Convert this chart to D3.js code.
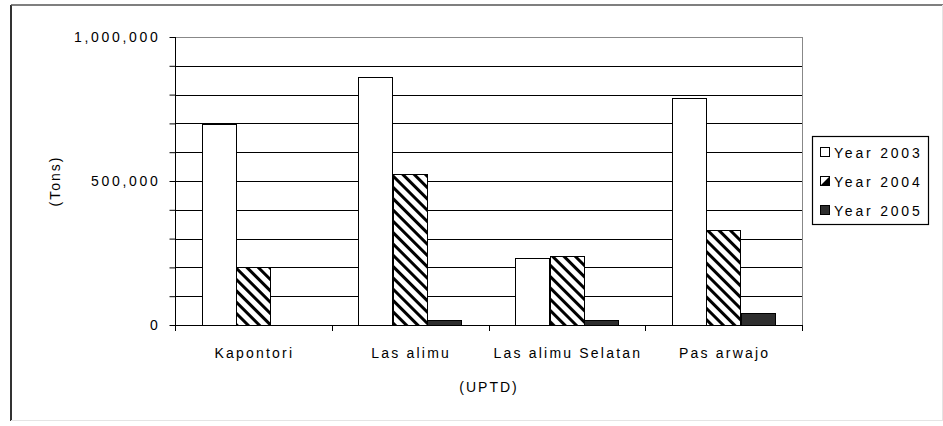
<!DOCTYPE html>
<html><head><meta charset="utf-8">
<script src="https://cdn.jsdelivr.net/npm/d3@7"></script>
<style>body{margin:0;background:#fff}svg{display:block;font-family:"Liberation Sans",Arial,sans-serif}</style>
</head><body>
<svg id="c" width="943" height="426"></svg>
<script>
const categories = ["Kapontori", "Las alimu", "Las alimu Selatan", "Pas arwajo"];
const seriesNames = ["Year 2003", "Year 2004", "Year 2005"];
const year2003 = [698000, 860000, 234000, 789000];
const year2004 = [202000, 524000, 241000, 330000];
const year2005 = [0, 17000, 17000, 43000];
const yTickValues = [0, 500000, 1000000];
const yAxisTitle = "(Tons)";
const xAxisTitle = "(UPTD)";

const series = [year2003, year2004, year2005];
const svg = d3.select("#c");
const L = 175, R = 802, T = 37, B = 325;

const defs = svg.append("defs");
const pat = defs.append("pattern").attr("id","hatch").attr("patternUnits","userSpaceOnUse")
  .attr("width",8).attr("height",8).attr("patternTransform","rotate(-45)");
pat.append("rect").attr("width",8).attr("height",8).attr("fill","#fff");
pat.append("rect").attr("x",0).attr("y",0).attr("width",3).attr("height",8).attr("fill","#000");

// outer border
svg.append("line").attr("x1",11).attr("x2",11).attr("y1",5).attr("y2",421).attr("stroke","#333").attr("stroke-width",2);
svg.append("line").attr("x1",11).attr("x2",943).attr("y1",5).attr("y2",5).attr("stroke","#555").attr("stroke-width",1.5);
svg.append("line").attr("x1",11).attr("x2",942).attr("y1",420.5).attr("y2",420.5).attr("stroke","#e4e4e4").attr("stroke-width",1);
svg.append("line").attr("x1",942.5).attr("x2",942.5).attr("y1",5).attr("y2",421).attr("stroke","#e4e4e4").attr("stroke-width",1);

const y = d3.scaleLinear().domain([0, 1000000]).range([B, T]);
const x0 = d3.scaleBand().domain(categories).range([L, R]).padding(0);
const gap = x0.bandwidth() * 0.34;
const x1 = d3.scaleBand().domain(seriesNames).range([gap/2, x0.bandwidth() - gap/2]).padding(0);

// gridlines
const gridVals = d3.range(100000, 1000001, 100000);
svg.append("g").selectAll("line").data(gridVals).join("line")
  .attr("x1", L).attr("x2", R).attr("y1", d => Math.round(y(d))+0.5).attr("y2", d => Math.round(y(d))+0.5)
  .attr("stroke", d => d === 1000000 ? "#888" : "#000").attr("stroke-width", 1);
svg.append("line").attr("x1",R+0.5).attr("x2",R+0.5).attr("y1",T).attr("y2",B).attr("stroke","#888");

// bars
const g = svg.append("g");
categories.forEach((c, i) => {
  series.forEach((s, j) => {
    if (s[i] <= 0) return;
    g.append("rect")
      .attr("x", Math.round(x0(c) + x1(seriesNames[j])) + 0.5)
      .attr("y", Math.round(y(s[i])) + 0.5)
      .attr("width", Math.round(x1.bandwidth()))
      .attr("height", Math.round(B - y(s[i])))
      .attr("fill", j === 0 ? "#fff" : j === 1 ? "url(#hatch)" : "#2e2e2e")
      .attr("stroke", "#000").attr("stroke-width", 1);
  });
});

// y axis
const yAxis = d3.axisLeft(y).tickValues(d3.range(0, 1000001, 100000)).tickSize(6)
  .tickFormat(d => yTickValues.includes(d) ? d3.format(",")(d) : "");
const ya = svg.append("g").attr("transform", `translate(${L+0.5},0)`).call(yAxis);
ya.select(".domain").remove();
ya.selectAll(".tick line").attr("stroke","#000");
ya.append("line").attr("x1",0).attr("x2",0).attr("y1",T).attr("y2",B+1).attr("stroke","#000");
ya.selectAll(".tick text").attr("font-size",14).attr("letter-spacing","2.7px").attr("fill","#000")
  .attr("font-family","Liberation Sans, Arial, sans-serif").attr("x",-15);

// x axis
const xa = svg.append("g");
xa.append("line").attr("x1",L).attr("x2",R+1).attr("y1",B+0.5).attr("y2",B+0.5).attr("stroke","#000");
const bounds = categories.map(c => x0(c)).concat([R]);
xa.selectAll("line.t").data(bounds).join("line").attr("class","t")
  .attr("x1", d => Math.round(d)+0.5).attr("x2", d => Math.round(d)+0.5)
  .attr("y1", B).attr("y2", B+6).attr("stroke","#000");
xa.selectAll("text").data(categories).join("text")
  .attr("x", d => x0(d) + x0.bandwidth()/2 + 1).attr("y", 358)
  .attr("text-anchor","middle").attr("font-size",14).attr("letter-spacing","2.2px").text(d => d);

// axis titles
svg.append("text").attr("x", 489).attr("y", 392).attr("text-anchor","middle")
  .attr("font-size",14).attr("letter-spacing","2px").text(xAxisTitle);
svg.append("text").attr("transform", `translate(60,${(T+B)/2}) rotate(-90)`).attr("text-anchor","middle")
  .attr("font-size",14).attr("letter-spacing","2px").text(yAxisTitle);

// legend
const lg = svg.append("g");
lg.append("rect").attr("x",812.5).attr("y",136.5).attr("width",116).attr("height",88)
  .attr("fill","#fff").attr("stroke","#000").attr("stroke-width",1.2);
const fills = ["#fff","url(#hatch)","#2e2e2e"];
seriesNames.forEach((n, j) => {
  const cy = 153 + j * 29;
  lg.append("rect").attr("x",820.5).attr("y",cy-5.5).attr("width",9).attr("height",9)
    .attr("fill", j === 1 ? "#fff" : fills[j]).attr("stroke","#000");
  if (j === 1) lg.append("path").attr("d",`M${829.5},${cy-5.5}L${829.5},${cy+3.5}L${820.5},${cy+3.5}Z`).attr("fill","#000");
  lg.append("text").attr("x",834).attr("y",cy+5).attr("font-size",14).attr("letter-spacing","2.8px").text(n);
});
</script>
</body></html>
